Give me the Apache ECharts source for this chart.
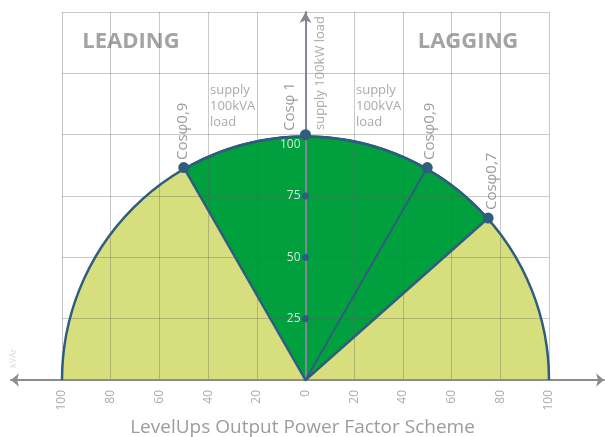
<!DOCTYPE html>
<html>
<head>
<meta charset="utf-8">
<script src="https://cdn.jsdelivr.net/npm/echarts@6/dist/echarts.min.js"></script>
<style>
  html, body { margin: 0; padding: 0; background: #fff; }
  #main { width: 605px; height: 437px; }
</style>
</head>
<body>
<div id="main"></div>
<script>
  // kW on the vertical axis, kVAr on the horizontal one (leading < 0 < lagging)
  const radius = 100
  const yLabelValues = [25, 50, 75, 100]
  const kwDots = [[0, 25], [0, 50], [0, 75]]
  // points on the 100kVA circle
  const pfNames = ['Cosφ0,9', 'Cosφ 1', 'Cosφ0,9', 'Cosφ0,7']
  const pfPoints = [[-50, 86.6], [0, 100], [50, 86.6], [75, 66]]
  // green operating area goes from the leading 0,9 point to the lagging 0,7 point
  const areaFrom = pfPoints[0]
  const areaTo = pfPoints[3]
  const lagLine = [[0, 0], pfPoints[2]]

  const blue = '#2f5d7e'
  const yellow = '#d7de7e'
  const green = '#00a03e'
  const gridColor = 'rgba(90,90,90,0.33)'

  function circleGeom(api) {
    const c = api.coord([0, 0])
    const e = api.coord([radius, 0])
    const a0 = api.coord(areaFrom)
    const a1 = api.coord(areaTo)
    return {
      cx: c[0],
      cy: c[1],
      r: e[0] - c[0],
      start: Math.atan2(a0[1] - c[1], a0[0] - c[0]),
      end: Math.atan2(a1[1] - c[1], a1[0] - c[0])
    }
  }

  // y labels sit on the axis at x = 0, the 100 one a bit below its dot
  const yLabelData = yLabelValues.map((v) => ({
    value: [0, v],
    label: v === 100 ? { offset: [0, 10] } : {}
  }))

  const myChart = echarts.init(document.getElementById('main'))
  myChart.setOption({
    animation: false,
    title: {
      text: 'LevelUps Output Power Factor Scheme',
      left: 'center',
      top: 413,
      textStyle: { color: '#9c9c9c', fontSize: 19, fontWeight: 'normal', fontFamily: 'Open Sans' }
    },
    grid: [
      { left: 62, right: 56, top: 12, bottom: 57 },
      { left: 11, right: 1, top: 12, bottom: 57 }
    ],
    xAxis: [
      {
        type: 'value',
        min: -100,
        max: 100,
        interval: 20,
        z: 3,
        axisLine: { show: false },
        axisTick: { show: false },
        axisLabel: {
          rotate: 90,
          margin: 10,
          color: '#aaa',
          fontSize: 12,
          fontFamily: 'Open Sans',
          formatter: (v) => String(Math.abs(v))
        },
        splitLine: { lineStyle: { color: gridColor, width: 1 } }
      },
      {
        type: 'value',
        gridIndex: 1,
        min: 0,
        max: 1,
        z: 3,
        axisLine: {
          onZero: false,
          symbol: ['arrow', 'arrow'],
          symbolSize: [10, 8],
          lineStyle: { color: '#8c8c8c', width: 2 }
        },
        axisTick: { show: false },
        axisLabel: { show: false },
        splitLine: { show: false }
      }
    ],
    yAxis: [
      {
        type: 'value',
        min: 0,
        max: 150,
        interval: 25,
        z: 3,
        axisLine: {
          onZero: true,
          symbol: ['none', 'arrow'],
          symbolSize: [9, 11],
          lineStyle: { color: '#85859a', width: 2 }
        },
        axisTick: { show: false },
        axisLabel: { show: false },
        splitLine: { lineStyle: { color: gridColor, width: 1 } }
      },
      { type: 'value', gridIndex: 1, show: false, min: 0, max: 1 }
    ],
    graphic: [
      { type: 'text', x: 131, y: 42, style: { text: 'LEADING', align: 'center', verticalAlign: 'middle', fill: '#a3a3a3', font: 'bold 22px "Open Sans"' } },
      { type: 'text', x: 468, y: 42, style: { text: 'LAGGING', align: 'center', verticalAlign: 'middle', fill: '#a3a3a3', font: 'bold 22px "Open Sans"' } },
      { type: 'text', x: 183, y: 160, rotation: Math.PI / 2, style: { text: pfNames[0], align: 'left', verticalAlign: 'middle', fill: '#9c9c9c', font: '15px "Open Sans"' } },
      { type: 'text', x: 290, y: 131, rotation: Math.PI / 2, style: { text: pfNames[1], align: 'left', verticalAlign: 'middle', fill: '#9c9c9c', font: '15px "Open Sans"' } },
      { type: 'text', x: 430, y: 160, rotation: Math.PI / 2, style: { text: pfNames[2], align: 'left', verticalAlign: 'middle', fill: '#9c9c9c', font: '15px "Open Sans"' } },
      { type: 'text', x: 492, y: 210, rotation: Math.PI / 2, style: { text: pfNames[3], align: 'left', verticalAlign: 'middle', fill: '#9c9c9c', font: '15px "Open Sans"' } },
      { type: 'text', x: 320, y: 130, rotation: Math.PI / 2, style: { text: 'supply 100kW load', align: 'left', verticalAlign: 'middle', fill: '#aaa', font: '13px "Open Sans"' } },
      { type: 'text', x: 210, y: 82, style: { text: 'supply\n100kVA\nload', align: 'left', verticalAlign: 'top', fill: '#aaa', font: '13px "Open Sans"', lineHeight: 16 } },
      { type: 'text', x: 356, y: 82, style: { text: 'supply\n100kVA\nload', align: 'left', verticalAlign: 'top', fill: '#aaa', font: '13px "Open Sans"', lineHeight: 16 } },
      { type: 'text', x: 13, y: 368, rotation: Math.PI / 2, style: { text: 'kVAr', align: 'left', verticalAlign: 'middle', fill: '#dadada', font: '9px "Open Sans"' } }
    ],
    series: [
      {
        // filled areas, under the grid lines
        type: 'custom',
        z: 1,
        data: [[0, 0]],
        renderItem: (params, api) => {
          const g = circleGeom(api)
          return {
            type: 'group',
            children: [
              { type: 'sector', shape: { cx: g.cx, cy: g.cy, r: g.r, startAngle: Math.PI, endAngle: Math.PI * 2, clockwise: true }, style: { fill: yellow } },
              { type: 'sector', shape: { cx: g.cx, cy: g.cy, r: g.r, startAngle: g.start, endAngle: g.end, clockwise: true }, style: { fill: green } }
            ]
          }
        }
      },
      {
        // outlines, above the grid lines
        type: 'custom',
        z: 4,
        data: [[0, 0]],
        renderItem: (params, api) => {
          const g = circleGeom(api)
          return {
            type: 'group',
            children: [
              { type: 'arc', shape: { cx: g.cx, cy: g.cy, r: g.r, startAngle: Math.PI, endAngle: Math.PI * 2, clockwise: true }, style: { fill: null, stroke: blue, lineWidth: 2.5 } },
              { type: 'sector', shape: { cx: g.cx, cy: g.cy, r: g.r, startAngle: g.start, endAngle: g.end, clockwise: true }, style: { fill: null, stroke: blue, lineWidth: 2.5, lineJoin: 'round' } }
            ]
          }
        }
      },
      {
        type: 'line',
        z: 4,
        data: lagLine,
        symbol: 'none',
        lineStyle: { color: blue, width: 2 }
      },
      {
        type: 'scatter',
        z: 5,
        data: pfPoints,
        symbolSize: 11,
        itemStyle: { color: blue, opacity: 1 }
      },
      {
        type: 'scatter',
        z: 5,
        data: kwDots,
        symbolSize: 7,
        itemStyle: { color: blue, opacity: 1 }
      },
      {
        type: 'scatter',
        z: 6,
        data: yLabelData,
        symbolSize: 0,
        silent: true,
        label: {
          show: true,
          position: 'left',
          distance: 5,
          color: '#fff',
          fontSize: 12,
          fontFamily: 'Open Sans',
          formatter: (p) => String(p.value[1])
        }
      }
    ]
  })
</script>
</body>
</html>
